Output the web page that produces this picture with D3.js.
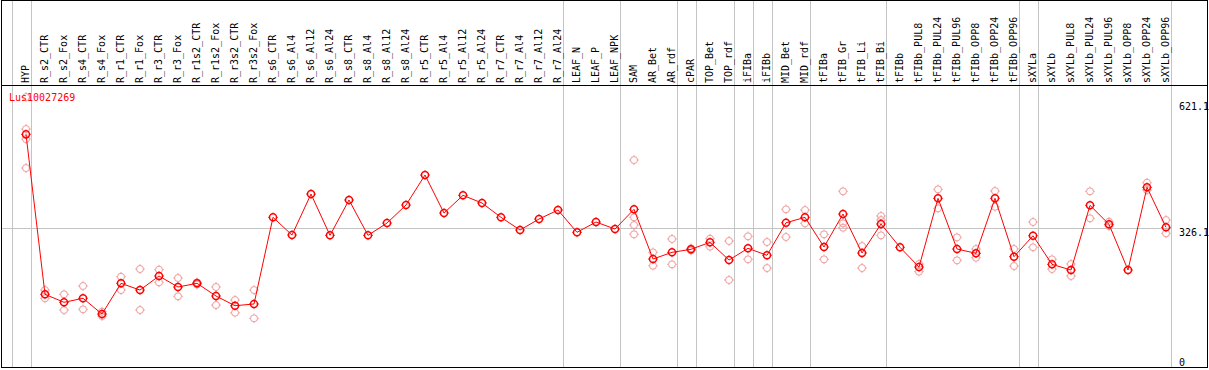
<!DOCTYPE html>
<html>
<head>
<meta charset="utf-8">
<script src="https://cdn.jsdelivr.net/npm/d3@7"></script>
<style>
  body { margin: 0; background: #fff; }
  text { font-family: "DejaVu Sans Mono", monospace; font-size: 10px; }
</style>
</head>
<body>
<div id="chart"></div>
<script>
var geneName = "Lus10027269";

var samples = ["HYP","R_s2_CTR","R_s2_Fox","R_s4_CTR","R_s4_Fox","R_r1_CTR","R_r1_Fox","R_r3_CTR","R_r3_Fox",
  "R_r1s2_CTR","R_r1s2_Fox","R_r3s2_CTR","R_r3s2_Fox","R_s6_CTR","R_s6_Al4","R_s6_Al12","R_s6_Al24",
  "R_s8_CTR","R_s8_Al4","R_s8_Al12","R_s8_Al24","R_r5_CTR","R_r5_Al4","R_r5_Al12","R_r5_Al24",
  "R_r7_CTR","R_r7_Al4","R_r7_Al12","R_r7_Al24","LEAF_N","LEAF_P","LEAF_NPK","SAM","AR_Bet","AR_rdf",
  "cPAR","TOP_Bet","TOP_rdf","iFIBa","iFIBb","MID_Bet","MID_rdf","tFIBa","tFIB_Gr","tFIB_Li","tFIB_Bi",
  "tFIBb","tFIBb_PUL8","tFIBb_PUL24","tFIBb_PUL96","tFIBb_OPP8","tFIBb_OPP24","tFIBb_OPP96",
  "sXYLa","sXYLb","sXYLb_PUL8","sXYLb_PUL24","sXYLb_PUL96","sXYLb_OPP8","sXYLb_OPP24","sXYLb_OPP96"];

var means = [546.7,171,152.2,161.6,124.7,196.8,181,214,188.1,
  196.8,167,144.2,148.2,351.8,310.2,406.5,309.5,
  392.5,309.5,338.4,380.7,451.2,361.9,403.5,385.4,
  351.8,322,347.8,369,316.6,340.8,324.3,370.6,253.9,269.6,
  276.7,293.1,251.5,279,262.6,339.1,351.8,282.1,359.6,268,336.1,
  281.4,235.1,396.4,277.4,267.3,396.4,259.3,
  308.6,241.4,228,380,335.4,228,422.3,328.3];

var replicates = [
  [634.4,559.2,535.7,467.6],[181,161.6],[171,134.1],[190.5,135.7],[130.1,120],[212.3,181],[230.4,134.1],[228.8,199.2],[209.3,166.3],
  [199,194],[188.1,145.8],[157.6,127.8],[181,114.6],[],[],[],[],
  [],[],[],[],[],[],[],[],
  [],[],[],[],[],[],[],[486.4,351.8,333.7,311.9],[269.6,238.1],[300.9,241.4],
  [279,274],[301.6,282.8],[296.2,204.6],[307.2,253.2],[293.8,232.7],[370.6,305.6],[369,337.7],[311.9,253.2],[412.9,337.7,327.4],[284.4,232.7],[354.9,345.5,309.5],
  [],[242.1,224.1],[417.6,373],[304.8,250.8],[277.4,256.9],[413.6,376.7],[277.4,237.4],
  [340.8,281.4],[253.2,230.4],[242.1,214],[412.9,349.5],[341.5,331.4],[],[433.1,415.9],[345.5,314.2]];

// last sample of each group; a separator line is drawn right of it
var groupEnds = ["HYP","R_r7_Al24","LEAF_NPK","AR_rdf","cPAR","TOP_rdf","iFIBa","iFIBb","MID_rdf",
  "tFIB_Bi","tFIBb_OPP96","sXYLa","sXYLb_OPP96"];

var yTicks = [0, 326.1, 621.1];
var refValue = 326.1;

var width = 1209, height = 370;
var headerY = 85.5;

var svg = d3.select("#chart").append("svg")
  .attr("width", width)
  .attr("height", height);

var x = d3.scalePoint().domain(samples).range([26, 1166]);
var step = x.step();
var y = d3.scaleLinear().domain([0, 621.1]).range([367.1, 102.7]);

// group separators (one before first column too)
var sepX = [x(samples[0]) - step + 4.5].concat(groupEnds.map(function(d){ return x(d) + 4.5; }));
svg.selectAll("line.sep").data(sepX).enter().append("line")
  .attr("class", "sep")
  .attr("x1", function(d){ return Math.round(d) + 0.5; })
  .attr("x2", function(d){ return Math.round(d) + 0.5; })
  .attr("y1", 0).attr("y2", 368)
  .attr("stroke", "#c4c4c4").attr("stroke-width", 1);

// reference line
svg.append("line")
  .attr("x1", 1).attr("x2", Math.round(x(samples[samples.length-1]) + 4.5) + 0.5)
  .attr("y1", Math.round(y(refValue)) + 0.5).attr("y2", Math.round(y(refValue)) + 0.5)
  .attr("stroke", "#c4c4c4").attr("stroke-width", 1);

// frame and header line
svg.append("rect")
  .attr("x", 1.5).attr("y", 0.5).attr("width", 1206).attr("height", 367)
  .attr("fill", "none").attr("stroke", "#000").attr("stroke-width", 1);
svg.append("line")
  .attr("x1", 1).attr("x2", 1208).attr("y1", headerY).attr("y2", headerY)
  .attr("stroke", "#000").attr("stroke-width", 1);

// column labels
svg.selectAll("text.col").data(samples).enter().append("text")
  .attr("class", "col")
  .attr("transform", function(d){ return "translate(" + (x(d) + 3) + ",83) rotate(-90)"; })
  .attr("fill", "#000")
  .text(function(d){ return d; });

// y labels
svg.selectAll("text.ylab").data(yTicks).enter().append("text")
  .attr("class", "ylab")
  .attr("x", 1179)
  .attr("y", function(d){ return Math.min(y(d) + 7.5, 366); })
  .attr("fill", "#000")
  .text(function(d){ return d; });

function marker(g, cx, cy, color, sw) {
  var m = g.append("g").attr("transform", "translate(" + cx + "," + cy + ")");
  m.append("circle").attr("r", 3.5).attr("fill", "none")
    .attr("stroke", color).attr("stroke-width", sw);
  m.append("path").attr("d", "M0,-4.8V-3.8M0,3.8V4.8M-4.8,0H-3.8M3.8,0H4.8")
    .attr("stroke", color).attr("stroke-width", 1);
}

// replicate points
var repG = svg.append("g");
replicates.forEach(function(reps, i){
  reps.forEach(function(v){
    marker(repG, x(samples[i]), y(v), "#f09898", 1);
  });
});

// mean line
var line = d3.line()
  .x(function(d, i){ return x(samples[i]); })
  .y(function(d){ return y(d); });
svg.append("path")
  .attr("d", line(means))
  .attr("fill", "none")
  .attr("stroke", "#ff0000")
  .attr("stroke-width", 1);

var meanG = svg.append("g");
means.forEach(function(v, i){
  marker(meanG, x(samples[i]), y(v), "#ff0000", 1.5);
});

// title
svg.append("text")
  .attr("x", 9).attr("y", 101)
  .attr("fill", "#ff0000")
  .text(geneName);
</script>
</body>
</html>
